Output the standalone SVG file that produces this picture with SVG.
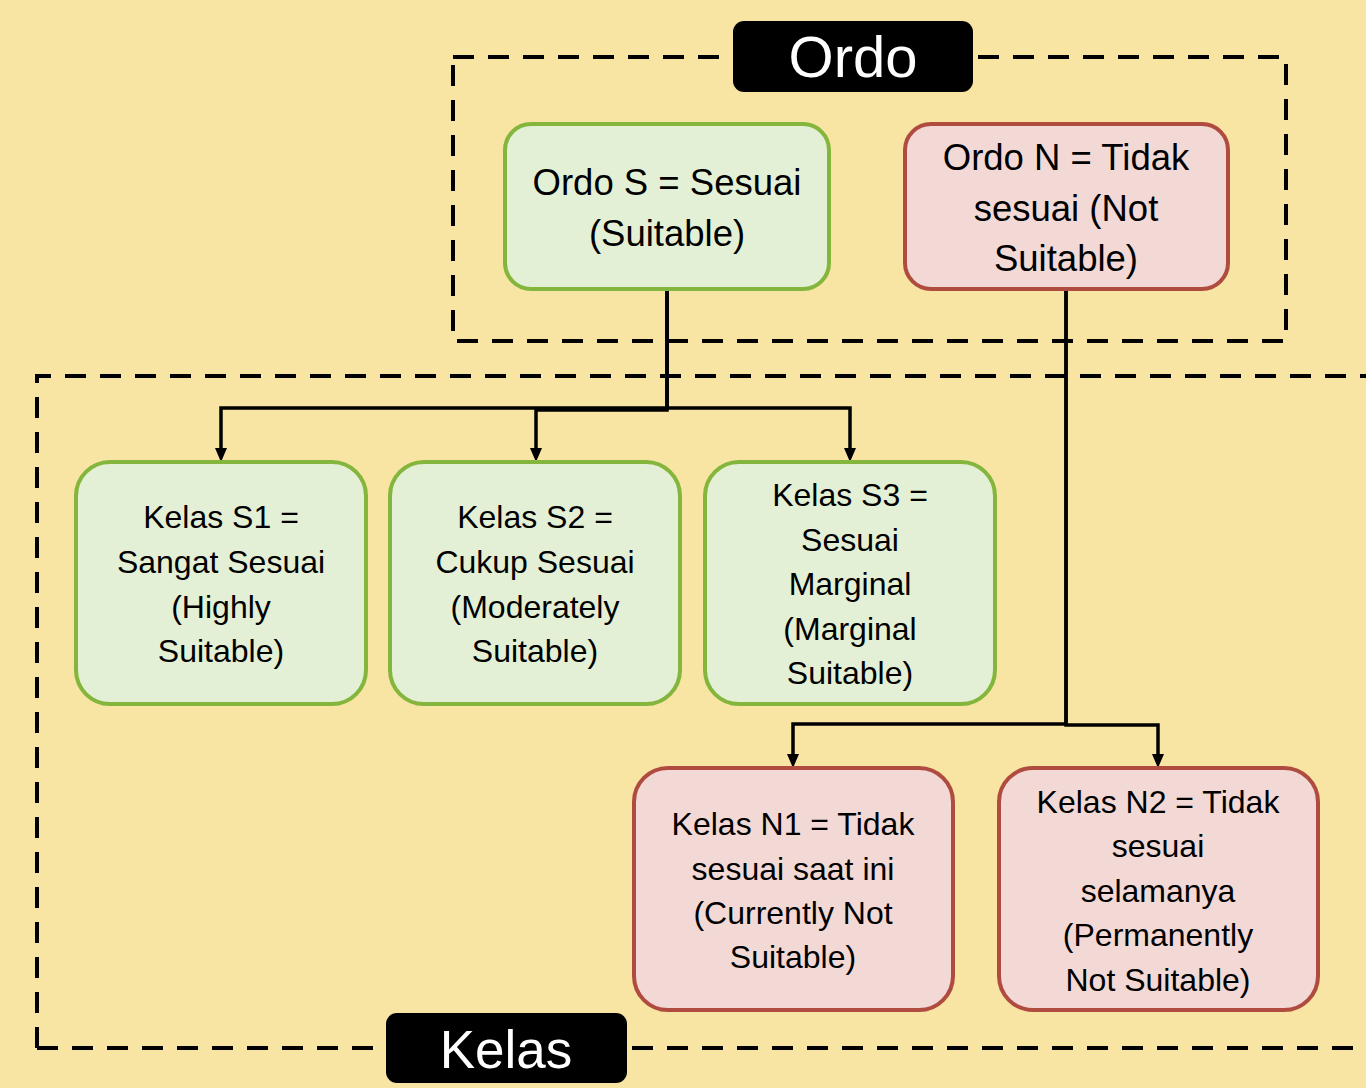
<svg xmlns="http://www.w3.org/2000/svg" width="1366" height="1088" viewBox="0 0 1366 1088">
<defs>
<style>
.dash{fill:none;stroke:#000;stroke-width:4;stroke-dasharray:21 14}
.g{fill:#e4f0d5;stroke:#84b53c;stroke-width:4}
.r{fill:#f2d9d6;stroke:#b04b40;stroke-width:4}
.t{font-family:"Liberation Sans",Arial,sans-serif;fill:#000;text-anchor:middle}
.big{font-size:36.5px}
.sm{font-size:32px}
.lab{font-family:"Liberation Sans",Arial,sans-serif;fill:#fff;text-anchor:middle;font-size:53px}
.c{fill:none;stroke:#000;stroke-width:3.5}
</style>
</defs>
<rect width="1366" height="1088" fill="#f8e5a3"/>
<g id="frames">
<rect class="dash" x="453" y="57" width="833" height="284"/>
<path class="dash" d="M37,1048 L37,376 L1380,376 M37,1048 L1380,1048"/>
</g>
<g id="connectors">
<path class="c" d="M667,289 L667,408 L221,408 L221,448"/>
<path class="c" d="M667,289 L667,410 L536,410 L536,448"/>
<path class="c" d="M667,289 L667,408 L850,408 L850,448"/>
<path class="c" d="M1066,289 L1066,724 L793,724 L793,754"/>
<path class="c" d="M1066,289 L1066,725 L1158,725 L1158,754"/>
<path d="M215,448 L227,448 L221,462 Z M530,448 L542,448 L536,462 Z M844,448 L856,448 L850,462 Z M787,754 L799,754 L793,768 Z M1152,754 L1164,754 L1158,768 Z" fill="#000"/>
</g>
<g id="label-ordo">
<rect x="733" y="21" width="240" height="71" rx="11" fill="#000"/>
<text class="lab" x="853" y="77" style="font-size:58px">Ordo</text>
</g>
<g id="label-kelas">
<rect x="386" y="1013" width="241" height="70" rx="11" fill="#000"/>
<text class="lab" x="506" y="1068">Kelas</text>
</g>
<g id="ordo-s">
<rect class="g" x="505" y="124" width="324" height="165" rx="26"/>
<text class="t big" x="667" y="195">Ordo S = Sesuai</text>
<text class="t big" x="667" y="246">(Suitable)</text>
</g>
<g id="ordo-n">
<rect class="r" x="905" y="124" width="323" height="165" rx="26"/>
<text class="t big" x="1066" y="170">Ordo N = Tidak</text>
<text class="t big" x="1066" y="221">sesuai (Not</text>
<text class="t big" x="1066" y="271">Suitable)</text>
</g>
<g id="kelas-s1">
<rect class="g" x="76" y="462" width="290" height="242" rx="34"/>
<text class="t sm" x="221" y="528">Kelas S1 =</text>
<text class="t sm" x="221" y="573">Sangat Sesuai</text>
<text class="t sm" x="221" y="618">(Highly</text>
<text class="t sm" x="221" y="662">Suitable)</text>
</g>
<g id="kelas-s2">
<rect class="g" x="390" y="462" width="290" height="242" rx="34"/>
<text class="t sm" x="535" y="528">Kelas S2 =</text>
<text class="t sm" x="535" y="573">Cukup Sesuai</text>
<text class="t sm" x="535" y="618">(Moderately</text>
<text class="t sm" x="535" y="662">Suitable)</text>
</g>
<g id="kelas-s3">
<rect class="g" x="705" y="462" width="290" height="242" rx="34"/>
<text class="t sm" x="850" y="506">Kelas S3 =</text>
<text class="t sm" x="850" y="551">Sesuai</text>
<text class="t sm" x="850" y="595">Marginal</text>
<text class="t sm" x="850" y="640">(Marginal</text>
<text class="t sm" x="850" y="684">Suitable)</text>
</g>
<g id="kelas-n1">
<rect class="r" x="634" y="768" width="319" height="242" rx="34"/>
<text class="t sm" x="793" y="835">Kelas N1 = Tidak</text>
<text class="t sm" x="793" y="880">sesuai saat ini</text>
<text class="t sm" x="793" y="924">(Currently Not</text>
<text class="t sm" x="793" y="968">Suitable)</text>
</g>
<g id="kelas-n2">
<rect class="r" x="999" y="768" width="319" height="242" rx="34"/>
<text class="t sm" x="1158" y="813">Kelas N2 = Tidak</text>
<text class="t sm" x="1158" y="857">sesuai</text>
<text class="t sm" x="1158" y="902">selamanya</text>
<text class="t sm" x="1158" y="946">(Permanently</text>
<text class="t sm" x="1158" y="991">Not Suitable)</text>
</g>
</svg>
